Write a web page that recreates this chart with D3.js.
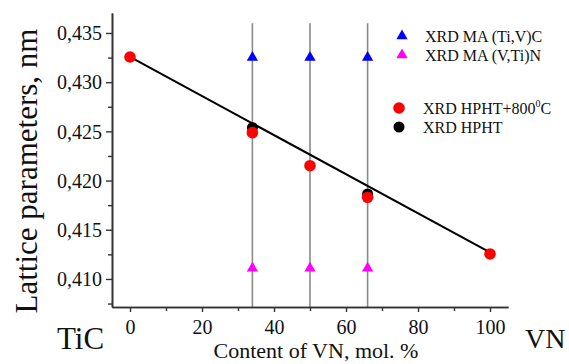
<!DOCTYPE html>
<html><head><meta charset="utf-8">
<script src="https://cdn.jsdelivr.net/npm/d3@7"></script>
<style>body{margin:0;background:#fff}svg{display:block}text{font-family:"Liberation Serif","Times New Roman",serif;fill:#111}</style>
</head><body><svg id="c" width="569" height="364"></svg>
<script>
// data
const compositions = [34, 50, 66];
const maCarbide = [0.4325, 0.4325, 0.4325];      // XRD MA (Ti,V)C
const maNitride = [0.4111, 0.4111, 0.4111];      // XRD MA (V,Ti)N
const hphtAnnX = [0, 34, 50, 66, 100];
const hphtAnnY = [0.43256, 0.42487, 0.42151, 0.41830, 0.41254]; // XRD HPHT+800°C
const hphtX = [34, 66];
const hphtY = [0.42538, 0.41864];                 // XRD HPHT
const fitX = [0, 100];
const fitY = [0.43256, 0.41271];
const xTicks = [0, 20, 40, 60, 80, 100];
const xMinor = [10, 30, 50, 70, 90];
const yTicks = [0.410, 0.415, 0.420, 0.425, 0.430, 0.435];
const yMinor = [0.4075, 0.4125, 0.4175, 0.4225, 0.4275, 0.4325];
const legendLabels = ["XRD MA (Ti,V)C", "XRD MA (V,Ti)N", "XRD HPHT+800", "XRD HPHT"];

const svg = d3.select("#c");
const x = d3.scaleLinear().domain([-5, 105]).range([112, 508]);
const y = d3.scaleLinear().domain([0.40715, 0.43703]).range([307, 13]);
const fmt = v => d3.format(".3f")(v).replace(".", ",");

// vertical reference lines
svg.selectAll("line.vref").data(compositions).enter().append("line")
  .attr("x1", d => x(d)).attr("x2", d => x(d))
  .attr("y1", y(0.4360)).attr("y2", y.range()[0])
  .attr("stroke", "#8a8a8a").attr("stroke-width", 1.6);

// axes
const yAxis = svg.append("g").attr("transform", `translate(${x(-5)},0)`)
  .call(d3.axisLeft(y).tickValues(yTicks).tickFormat(fmt).tickSize(6).tickSizeOuter(0));
const yMin = svg.append("g").attr("transform", `translate(${x(-5)},0)`)
  .call(d3.axisLeft(y).tickValues(yMinor).tickFormat("").tickSize(4).tickSizeOuter(0));
const xAxis = svg.append("g").attr("transform", `translate(0,${y.range()[0]})`)
  .call(d3.axisBottom(x).tickValues(xTicks).tickSize(5).tickSizeOuter(0).tickPadding(8));
const xMin = svg.append("g").attr("transform", `translate(0,${y.range()[0]})`)
  .call(d3.axisBottom(x).tickValues(xMinor).tickFormat("").tickSize(4).tickSizeOuter(0));
[yAxis, yMin, xAxis, xMin].forEach(g => {
  g.select(".domain").attr("stroke", "#333").attr("stroke-width", 1.6);
  g.selectAll(".tick line").attr("stroke", "#333").attr("stroke-width", 1.4);
  g.selectAll("text").attr("font-family", "Liberation Serif").attr("font-size", 20).attr("fill", "#111");
});
yAxis.selectAll("text").attr("x", -10).attr("dy", "0.34em");
xAxis.selectAll("text").attr("dy", "0.71em");

// fit line
svg.append("path").datum(fitX.map((d, i) => [d, fitY[i]]))
  .attr("d", d3.line().x(d => x(d[0])).y(d => y(d[1])))
  .attr("stroke", "#000").attr("stroke-width", 2).attr("fill", "none");

// points
const tri = d3.symbol().type(d3.symbolTriangle).size(55);
svg.selectAll("path.blue").data(compositions).enter().append("path")
  .attr("d", tri).attr("transform", (d, i) => `translate(${x(d)},${y(maCarbide[i])})`).attr("fill", "#0000ff");
svg.selectAll("path.mag").data(compositions).enter().append("path")
  .attr("d", tri).attr("transform", (d, i) => `translate(${x(d)},${y(maNitride[i])})`).attr("fill", "#ff00ff");
svg.selectAll("circle.blk").data(hphtX).enter().append("circle")
  .attr("cx", d => x(d)).attr("cy", (d, i) => y(hphtY[i])).attr("r", 5.5).attr("fill", "#000");
svg.selectAll("circle.red").data(hphtAnnX).enter().append("circle")
  .attr("cx", d => x(d)).attr("cy", (d, i) => y(hphtAnnY[i])).attr("r", 5.8).attr("fill", "#ff0000");

// legend
const leg = svg.append("g");
leg.append("path").attr("d", tri).attr("transform", "translate(402,36)").attr("fill", "#0000ff");
leg.append("path").attr("d", tri).attr("transform", "translate(402,55)").attr("fill", "#ff00ff");
leg.append("circle").attr("cx", 399).attr("cy", 108).attr("r", 5.8).attr("fill", "#ff0000");
leg.append("circle").attr("cx", 399).attr("cy", 127).attr("r", 5.5).attr("fill", "#000");
leg.append("text").attr("x", 425).attr("y", 42).attr("font-size", 16).text(legendLabels[0]);
leg.append("text").attr("x", 425).attr("y", 61).attr("font-size", 16).text(legendLabels[1]);
const t3 = leg.append("text").attr("x", 423).attr("y", 114).attr("font-size", 16);
t3.append("tspan").text(legendLabels[2]);
t3.append("tspan").attr("font-size", 10).attr("dy", -7).text("0");
t3.append("tspan").attr("dy", 7).text("C");
leg.append("text").attr("x", 423).attr("y", 133).attr("font-size", 16).text(legendLabels[3]);

// titles
svg.append("text").attr("transform", "translate(37,171) rotate(-90)").attr("text-anchor", "middle")
  .attr("font-size", 31).text("Lattice parameters, nm");
svg.append("text").attr("x", 316).attr("y", 358).attr("text-anchor", "middle")
  .attr("font-size", 22).text("Content of VN, mol. %");
svg.append("text").attr("x", 57).attr("y", 349).attr("font-size", 31).text("TiC");
svg.append("text").attr("x", 525).attr("y", 348).attr("font-size", 28).text("VN");
</script></body></html>
